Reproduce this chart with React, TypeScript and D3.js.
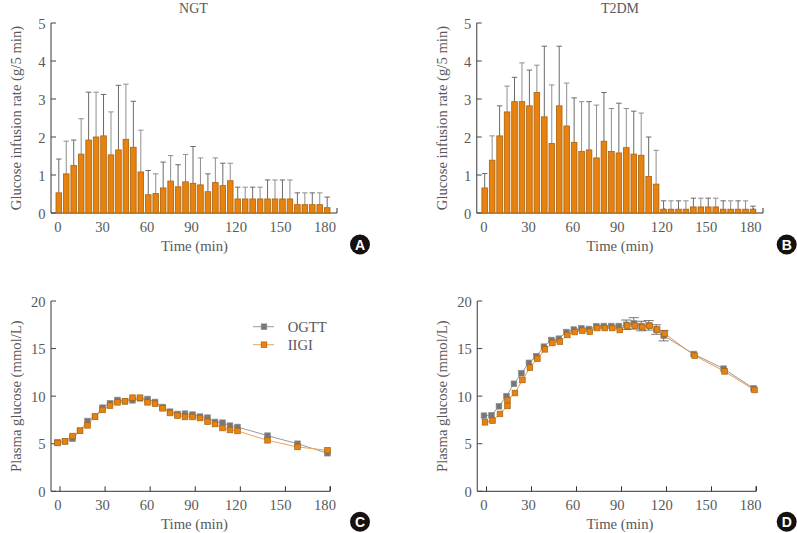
import React, { useEffect, useRef } from 'react';
import * as d3 from 'd3';

const infusionTimes = [0, 5, 10, 15, 20, 25, 30, 35, 40, 45, 50, 55, 60, 65, 70, 75, 80, 85, 90, 95, 100, 105, 110, 115, 120, 125, 130, 135, 140, 145, 150, 155, 160, 165, 170, 175, 180];
const ngtRate = [0.53, 1.03, 1.25, 1.55, 1.92, 2.0, 2.03, 1.53, 1.66, 1.94, 1.73, 1.08, 0.48, 0.51, 0.66, 0.84, 0.69, 0.82, 0.78, 0.74, 0.56, 0.8, 0.72, 0.85, 0.37, 0.37, 0.37, 0.37, 0.37, 0.37, 0.37, 0.37, 0.22, 0.22, 0.22, 0.22, 0.14];
const ngtRateTop = [1.42, 1.89, 1.92, 2.48, 3.18, 3.18, 3.12, 2.66, 3.36, 3.39, 2.94, 2.18, 1.12, 1.03, 1.34, 1.51, 1.27, 1.54, 1.75, 1.45, 1.03, 1.45, 1.31, 1.31, 0.68, 0.68, 0.68, 0.68, 0.87, 0.87, 0.87, 0.87, 0.53, 0.53, 0.53, 0.53, 0.42];
const t2dmRate = [0.66, 1.39, 2.03, 2.66, 2.93, 2.93, 2.82, 3.17, 2.53, 1.83, 2.82, 2.29, 1.86, 1.62, 1.66, 1.45, 1.89, 1.62, 1.58, 1.72, 1.55, 1.52, 0.96, 0.76, 0.1, 0.1, 0.1, 0.1, 0.16, 0.16, 0.16, 0.16, 0.1, 0.1, 0.1, 0.1, 0.1];
const t2dmRateTop = [1.04, 2.03, 2.82, 3.34, 3.57, 3.95, 3.76, 3.89, 4.39, 3.37, 4.39, 3.42, 3.03, 2.93, 2.93, 2.84, 3.17, 2.75, 2.89, 2.75, 2.68, 2.63, 2.0, 1.65, 0.32, 0.32, 0.32, 0.32, 0.39, 0.39, 0.39, 0.39, 0.32, 0.32, 0.32, 0.32, 0.18];

const glucoseTimes = [0, 5, 10, 15, 20, 25, 30, 35, 40, 45, 50, 55, 60, 65, 70, 75, 80, 85, 90, 95, 100, 105, 110, 115, 120, 140, 160, 180];
const ngtOgtt = [5.15, 5.25, 5.53, 6.37, 7.39, 7.85, 8.79, 9.25, 9.6, 9.46, 9.56, 9.77, 9.7, 9.39, 8.86, 8.37, 8.13, 8.16, 8.06, 7.85, 7.74, 7.29, 7.21, 6.9, 6.76, 5.85, 5.0, 4.0];
const ngtIigi = [5.08, 5.25, 5.81, 6.37, 6.93, 7.85, 8.55, 9.0, 9.35, 9.46, 9.84, 9.84, 9.35, 9.21, 8.72, 8.23, 7.95, 7.81, 7.81, 7.7, 7.32, 7.07, 6.65, 6.44, 6.34, 5.36, 4.66, 4.31];
const t2dmOgtt = [7.95, 7.99, 8.93, 10.0, 11.3, 12.4, 13.5, 14.2, 15.2, 15.9, 16.04, 16.74, 17.0, 17.13, 17.06, 17.34, 17.37, 17.37, 17.37, 17.5, 17.65, 17.37, 17.44, 17.0, 16.36, 14.43, 12.89, 10.82];
// this series has two readings at 15 min in the figure
const t2dmIigiTimes = [0, 5, 10, 15, 15, 20, 25, 30, 35, 40, 45, 50, 55, 60, 65, 70, 75, 80, 85, 90, 95, 100, 105, 110, 115, 120, 140, 160, 180];
const t2dmIigi = [7.25, 7.43, 8.13, 8.97, 9.6, 10.33, 11.7, 13.0, 13.94, 14.92, 15.59, 15.73, 16.43, 16.74, 16.88, 16.78, 17.16, 17.16, 17.16, 16.95, 17.4, 17.4, 17.27, 17.4, 17.0, 16.57, 14.26, 12.6, 10.65];
const t2dmErrTimes = [95, 100, 105, 110, 115, 120];
const t2dmErrOgtt = [0.5, 0.6, 0.5, 0.5, 0.5, 0.55];

const xTicks = [0, 30, 60, 90, 120, 150, 180];
const rateTicks = [0, 1, 2, 3, 4, 5];
const glucoseTicks = [0, 5, 10, 15, 20];

const GRAY = '#77777a';
const ORANGE = '#e8820e';
const TEXT = '#58585a';
const FONT = '"Liberation Serif", serif';

type G = d3.Selection<SVGGElement, unknown, null, undefined>;
type Linear = d3.ScaleLinear<number, number>;

const drawAxes = (
  g: G,
  x: Linear,
  xLabels: Linear,
  y: Linear,
  yTicks: number[],
  axisX: number,
  axisEnd: number,
  yLabel: string,
  labelCenter: number,
) => {
  const [bottom, top] = y.range();

  g.append('g')
    .attr('transform', `translate(0,${bottom})`)
    .call(d3.axisTop(x).tickValues(xTicks).tickSize(5).tickFormat(() => ''))
    .call(a => a.select('.domain').remove())
    .selectAll('line')
    .attr('stroke', '#333');

  g.append('line')
    .attr('x1', axisX).attr('x2', axisEnd)
    .attr('y1', bottom).attr('y2', bottom)
    .attr('stroke', '#333').attr('stroke-width', 1);
  g.append('line')
    .attr('x1', axisEnd).attr('x2', axisEnd)
    .attr('y1', bottom).attr('y2', bottom - 5)
    .attr('stroke', '#333');
  g.append('line')
    .attr('x1', axisX).attr('x2', axisX)
    .attr('y1', bottom).attr('y2', top)
    .attr('stroke', '#666').attr('stroke-width', 1.3);

  g.selectAll('.ytick').data(yTicks).enter().append('line')
    .attr('x1', axisX).attr('x2', axisX + 5)
    .attr('y1', d => y(d)).attr('y2', d => y(d))
    .attr('stroke', '#444');

  g.selectAll('.ylab').data(yTicks).enter().append('text')
    .attr('x', axisX - 5.5).attr('y', d => y(d) + 5.5)
    .attr('text-anchor', 'end')
    .attr('font-size', 14.6).attr('fill', TEXT)
    .text(d => d);

  g.selectAll('.xlab').data(xTicks).enter().append('text')
    .attr('x', d => xLabels(d)).attr('y', bottom + 19)
    .attr('text-anchor', 'middle')
    .attr('font-size', 14.6).attr('fill', TEXT)
    .text(d => d);

  g.append('text')
    .attr('x', labelCenter).attr('y', bottom + 38)
    .attr('text-anchor', 'middle')
    .attr('font-size', 14.7).attr('fill', TEXT)
    .text('Time (min)');

  g.append('text')
    .attr('transform', `translate(${axisX - 30},${(top + bottom) / 2}) rotate(-90)`)
    .attr('text-anchor', 'middle')
    .attr('font-size', 14.7).attr('fill', TEXT)
    .text(yLabel);
};

const drawBars = (g: G, x: Linear, y: Linear, values: number[], tops: number[]) => {
  const barW = 5.6;
  infusionTimes.forEach((t, i) => {
    const cx = x(t);
    // alternate tones follow the uneven grey of the printed whiskers
    const whisker = i % 2 === 0 ? '#6a6a6a' : '#8f8f8f';
    g.append('line')
      .attr('x1', cx).attr('x2', cx)
      .attr('y1', y(values[i])).attr('y2', y(tops[i]))
      .attr('stroke', whisker).attr('stroke-width', 1);
    g.append('line')
      .attr('x1', cx - 2.7).attr('x2', cx + 2.7)
      .attr('y1', y(tops[i])).attr('y2', y(tops[i]))
      .attr('stroke', whisker).attr('stroke-width', 1);
    g.append('rect')
      .attr('x', cx - barW / 2).attr('width', barW)
      .attr('y', y(values[i])).attr('height', y(0) - y(values[i]))
      .attr('fill', ORANGE).attr('stroke', '#a8620f').attr('stroke-width', 0.8);
  });
};

const drawSeries = (
  g: G,
  x: Linear,
  y: Linear,
  times: number[],
  values: number[],
  color: string,
  lineColor: string,
  edge: string,
) => {
  const line = d3.line<number>()
    .x((_d, i) => x(times[i]))
    .y(d => y(d));
  g.append('path')
    .attr('d', line(values))
    .attr('fill', 'none')
    .attr('stroke', lineColor).attr('stroke-width', 1);
  const size = 5.6;
  g.selectAll('.mark').data(values).enter().append('rect')
    .attr('x', (_d, i) => x(times[i]) - size / 2)
    .attr('y', d => y(d) - size / 2)
    .attr('width', size).attr('height', size)
    .attr('fill', color).attr('stroke', edge).attr('stroke-width', 0.7);
};

const drawBadge = (g: G, cx: number, cy: number, letter: string) => {
  g.append('circle').attr('cx', cx).attr('cy', cy).attr('r', 10).attr('fill', '#16110f');
  g.append('text')
    .attr('x', cx).attr('y', cy + 5)
    .attr('text-anchor', 'middle')
    .attr('font-family', '"Liberation Sans", sans-serif')
    .attr('font-weight', 700).attr('font-size', 14).attr('fill', 'white')
    .text(letter);
};

const App: React.FC = () => {
  const svgRef = useRef<SVGSVGElement>(null);

  useEffect(() => {
    const svg = d3.select(svgRef.current);
    svg.selectAll('*').remove();
    const root = svg.append('g').attr('font-family', FONT) as unknown as G;

    const yRate = d3.scaleLinear().domain([0, 5]).range([213, 23]);
    const yGlucose = d3.scaleLinear().domain([0, 20]).range([491.3, 301]);

    const xA = d3.scaleLinear().domain([0, 180]).range([58.8, 327.2]);
    const xB = d3.scaleLinear().domain([0, 180]).range([484.7, 753]);
    const xC = d3.scaleLinear().domain([0, 180]).range([59.5, 330]);
    const xD = d3.scaleLinear().domain([0, 180]).range([486, 756]);
    // markers and tick labels sit a little off the tick positions in the figure
    const xCm = d3.scaleLinear().domain([0, 180]).range([57.5, 327.5]);
    const xDm = d3.scaleLinear().domain([0, 180]).range([484, 753.5]);
    const labelsLeft = d3.scaleLinear().domain([0, 180]).range([58, 325]);
    const labelsRight = d3.scaleLinear().domain([0, 180]).range([484, 750.7]);

    // Panel A
    const a = root.append('g') as unknown as G;
    drawAxes(a, xA, labelsLeft, yRate, rateTicks, 51, 337, 'Glucose infusion rate (g/5 min)', 194.5);
    drawBars(a, xA, yRate, ngtRate, ngtRateTop);

    // Panel B
    const b = root.append('g') as unknown as G;
    drawAxes(b, xB, labelsRight, yRate, rateTicks, 476.7, 763, 'Glucose infusion rate (g/5 min)', 620);
    drawBars(b, xB, yRate, t2dmRate, t2dmRateTop);

    // Panel C
    const c = root.append('g') as unknown as G;
    drawAxes(c, xC, labelsLeft, yGlucose, glucoseTicks, 51, 330, 'Plasma glucose (mmol/L)', 194.5);
    drawSeries(c, xCm, yGlucose, glucoseTimes, ngtOgtt, GRAY, '#9a9a9a', '#8a8a8a');
    drawSeries(c, xCm, yGlucose, glucoseTimes, ngtIigi, ORANGE, '#eda65a', '#a8620f');

    // Panel D
    const d = root.append('g') as unknown as G;
    drawAxes(d, xD, labelsRight, yGlucose, glucoseTicks, 477.3, 756, 'Plasma glucose (mmol/L)', 620);
    t2dmErrTimes.forEach((t, i) => {
      const v = t2dmOgtt[glucoseTimes.indexOf(t)];
      const cx = xDm(t);
      const path = d3.path();
      path.moveTo(cx, yGlucose(v - t2dmErrOgtt[i]));
      path.lineTo(cx, yGlucose(v + t2dmErrOgtt[i]));
      [v - t2dmErrOgtt[i], v + t2dmErrOgtt[i]].forEach(e => {
        path.moveTo(cx - 5, yGlucose(e));
        path.lineTo(cx + 5, yGlucose(e));
      });
      d.append('path').attr('d', path.toString()).attr('fill', 'none').attr('stroke', '#555').attr('stroke-width', 0.8);
    });
    drawSeries(d, xDm, yGlucose, glucoseTimes, t2dmOgtt, GRAY, '#9a9a9a', '#8a8a8a');
    drawSeries(d, xDm.copy().range([485, 754.5]), yGlucose, t2dmIigiTimes, t2dmIigi, ORANGE, '#e9984a', '#a8620f');

    // Titles
    root.append('text').attr('x', 193.5).attr('y', 12.5).attr('text-anchor', 'middle')
      .attr('font-size', 14).attr('fill', TEXT).text('NGT');
    root.append('text').attr('x', 620).attr('y', 12.5).attr('text-anchor', 'middle')
      .attr('font-size', 14).attr('fill', TEXT).text('T2DM');

    // Legend
    const legend = [
      { label: 'OGTT', color: GRAY, line: '#9a9a9a', edge: '#8a8a8a', y: 326.7 },
      { label: 'IIGI', color: ORANGE, line: '#eda65a', edge: '#a8620f', y: 344.7 },
    ];
    legend.forEach(l => {
      root.append('line').attr('x1', 253).attr('x2', 274).attr('y1', l.y).attr('y2', l.y)
        .attr('stroke', l.line);
      root.append('rect').attr('x', 261.2).attr('y', l.y - 2.8).attr('width', 5.6).attr('height', 5.6)
        .attr('fill', l.color).attr('stroke', l.edge).attr('stroke-width', 0.7);
      root.append('text').attr('x', 287.7).attr('y', l.y + 5)
        .attr('font-size', 14.6).attr('fill', TEXT).text(l.label);
    });

    drawBadge(root, 360, 244.5, 'A');
    drawBadge(root, 786.7, 244.5, 'B');
    drawBadge(root, 360, 521.7, 'C');
    drawBadge(root, 786.7, 521.7, 'D');
  }, []);

  return (
    <svg
      ref={svgRef}
      width={797}
      height={533}
      style={{ position: 'absolute', left: 0, top: 0, background: 'white' }}
    />
  );
};

export default App;
